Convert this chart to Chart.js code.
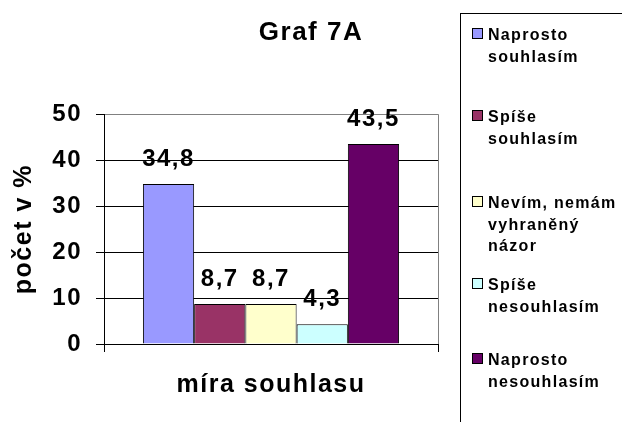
<!DOCTYPE html>
<html>
<head>
<meta charset="utf-8">
<script src="https://cdn.jsdelivr.net/npm/chart.js@4"></script>
<style>
  html, body { margin: 0; padding: 0; background: #fff; }
</style>
</head>
<body>
<canvas id="graf" width="622" height="422"></canvas>
<script>
// Graf 7A - míra souhlasu
const kategorie = ['Naprosto souhlasím', 'Spíše souhlasím', 'Nevím, nemám vyhraněný názor', 'Spíše nesouhlasím', 'Naprosto nesouhlasím'];
const hodnoty = [34.8, 8.7, 8.7, 4.3, 43.5];
const barvy = ['#9999FF', '#993366', '#FFFFCC', '#CCFFFF', '#660066'];
const osaY = [0, 10, 20, 30, 40, 50];

const pismo = '"Liberation Sans", Arial, sans-serif';
Chart.defaults.font.family = pismo;
Chart.defaults.color = '#000';

// trochu roztažené písmo jako v Excelu
const rozestup = {
    id: 'rozestup',
    beforeLayout(chart) { chart.ctx.letterSpacing = '1.5px'; },
    beforeDraw(chart) { chart.ctx.letterSpacing = '1.5px'; }
};

// šedý rámeček vpravo
const ramecek = {
    id: 'ramecek',
    beforeDatasetsDraw(chart) {
        const { ctx, chartArea } = chart;
        ctx.save();
        ctx.strokeStyle = '#808080';
        ctx.lineWidth = 1;
        ctx.beginPath();
        ctx.moveTo(Math.round(chartArea.right) + 0.5, chartArea.top);
        ctx.lineTo(Math.round(chartArea.right) + 0.5, chartArea.bottom);
        ctx.stroke();
        ctx.restore();
    }
};

// hodnoty nad sloupci
const popisky = {
    id: 'popisky',
    afterDatasetsDraw(chart) {
        const ctx = chart.ctx;
        ctx.save();
        ctx.letterSpacing = '1.5px';
        ctx.font = 'bold 24px ' + pismo;
        ctx.fillStyle = '#000';
        ctx.textAlign = 'center';
        ctx.textBaseline = 'alphabetic';
        chart.data.datasets.forEach((ds, i) => {
            const bar = chart.getDatasetMeta(i).data[0];
            ctx.fillText(String(ds.data[0]).replace('.', ','), bar.x, bar.y - 18);
        });
        ctx.restore();
    }
};

function zalom(ctx, text, maxSirka) {
    const slova = text.split(' ');
    const radky = [];
    let radek = '';
    slova.forEach(s => {
        const zkus = radek ? radek + ' ' + s : s;
        if (radek && ctx.measureText(zkus).width > maxSirka) {
            radky.push(radek);
            radek = s;
        } else {
            radek = zkus;
        }
    });
    radky.push(radek);
    return radky;
}

// legenda vpravo v rámečku
const legenda = {
    id: 'legenda',
    afterDraw(chart) {
        const ctx = chart.ctx;
        const zacatky = [40, 122, 208, 290, 365];
        ctx.save();
        ctx.strokeStyle = '#000';
        ctx.lineWidth = 1;
        ctx.strokeRect(460.5, 13.5, 300, 500);
        ctx.letterSpacing = '1.3px';
        ctx.font = 'bold 16px ' + pismo;
        ctx.textAlign = 'left';
        ctx.textBaseline = 'alphabetic';
        chart.data.datasets.forEach((ds, i) => {
            const y = zacatky[i];
            ctx.fillStyle = ds.backgroundColor;
            ctx.fillRect(472.5, y - 11.5, 10, 10);
            ctx.strokeRect(472.5, y - 11.5, 10, 10);
            ctx.fillStyle = '#000';
            zalom(ctx, ds.label, 136).forEach((t, j) => {
                ctx.fillText(t, 488, y + j * 21.5);
            });
        });
        ctx.restore();
    }
};

new Chart(document.getElementById('graf').getContext('2d'), {
    type: 'bar',
    data: {
        labels: [''],
        datasets: kategorie.map((k, i) => ({
            label: k,
            data: [hodnoty[i]],
            backgroundColor: barvy[i],
            borderColor: '#000',
            borderWidth: 1,
            categoryPercentage: 0.767,
            barPercentage: 1.0
        }))
    },
    options: {
        responsive: false,
        animation: false,
        layout: { padding: 0 },
        plugins: {
            legend: { display: false },
            tooltip: { enabled: false },
            title: {
                display: true,
                text: 'Graf 7A',
                color: '#000',
                font: { size: 26, weight: 'bold' },
                padding: { top: 17, bottom: 66 }
            }
        },
        scales: {
            x: {
                offset: true,
                grid: { display: true, drawOnChartArea: false, drawTicks: true, tickLength: 8, color: '#000', offset: true },
                border: { display: true, color: '#000', width: 1 },
                ticks: { display: false },
                title: {
                    display: true,
                    text: 'míra souhlasu',
                    color: '#000',
                    font: { size: 25, weight: 'bold' },
                    padding: { top: 18, bottom: 22 }
                },
                afterFit(s) { s.height = 78; }
            },
            y: {
                min: osaY[0],
                max: osaY[osaY.length - 1],
                ticks: { stepSize: osaY[1] - osaY[0], color: '#000', font: { size: 24, weight: 'bold' }, padding: 14 },
                grid: {
                    color: c => (c.tick && c.tick.value === osaY[osaY.length - 1]) ? '#808080' : '#000',
                    tickColor: '#000',
                    tickLength: 8,
                    lineWidth: 1
                },
                border: { color: '#000', width: 1 },
                title: {
                    display: true,
                    text: 'počet v %',
                    color: '#000',
                    font: { size: 25, weight: 'bold' },
                    padding: { top: 9, bottom: 0 }
                },
                afterFit(s) { s.width = 104; }
            },
            // prázdná osa vpravo jen drží místo pro legendu
            misto: {
                type: 'linear',
                position: 'right',
                display: true,
                grid: { display: false },
                border: { display: false },
                ticks: { display: false },
                afterFit(s) { s.width = 184; }
            }
        }
    },
    plugins: [rozestup, ramecek, popisky, legenda]
});
</script>
</body>
</html>
